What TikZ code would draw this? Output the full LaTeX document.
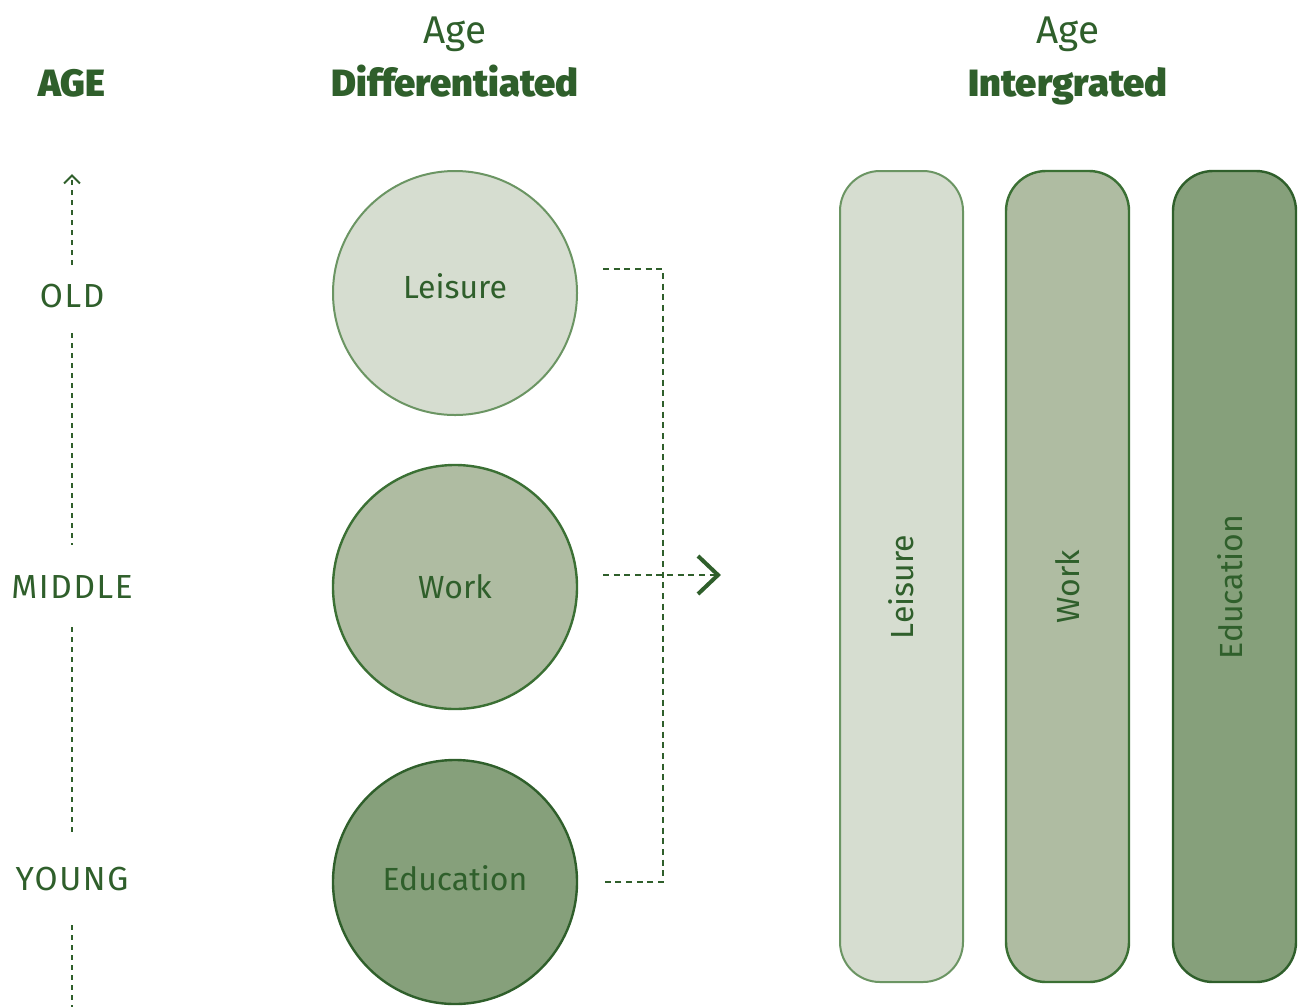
\documentclass[tikz,border=0pt]{standalone}
\usepackage{fontspec}
\setmainfont{Fira Sans}
\newfontfamily\heavyfont{Fira Sans Black}
\usetikzlibrary{arrows.meta,calc}
\definecolor{tg}{HTML}{2F5F2B}
\definecolor{fillA}{HTML}{D6DDD0}
\definecolor{fillB}{HTML}{AFBCA2}
\definecolor{fillC}{HTML}{86A07B}
\definecolor{edgeA}{HTML}{6B9563}
\definecolor{edgeB}{HTML}{3B7034}
\definecolor{edgeC}{HTML}{2F5F2B}
\tikzset{
  lbl/.style={text=tg, font=\fontsize{24}{28}\selectfont, inner sep=0pt, anchor=base},
  axl/.style={text=tg, font=\fontsize{25}{29}\selectfont\addfontfeatures{LetterSpace=5}, inner sep=0pt, anchor=base},
  top/.style={text=tg, font=\fontsize{29}{34}\selectfont, inner sep=0pt, anchor=base},
  hd/.style={text=tg, font=\heavyfont\fontsize{28.5}{33}\selectfont, inner sep=0pt, anchor=base},
  circ/.style={circle, minimum size=244*0.75pt, line width=1.5pt, inner sep=0pt},
  bar/.style={rectangle, rounded corners=30pt, minimum width=123*0.75pt, minimum height=811*0.75pt, line width=1.5pt, inner sep=0pt},
  vlbl/.style={text=tg, font=\fontsize{24}{28}\selectfont, inner sep=0pt, rotate=90},
  axisdash/.style={tg, line width=1.6pt, dash pattern=on 3.5pt off 4pt},
  brdash/.style={tg, line width=1.8pt, dash pattern=on 4.5pt off 3.5pt},
  chev/.style={tg, line width=3pt, line join=miter, line cap=butt},
}
\begin{document}
\begin{tikzpicture}[x=0.75pt, y=-0.75pt]
\useasboundingbox (0,0) rectangle (1298,1007);
% headers
\node[hd] (age) at (72,96) {AGE};
\node[top] (ageA) at (455,43) {Age};
\node[hd] (diff) at (455,96) {Differentiated};
\node[top] (ageB) at (1068,43) {Age};
\node[hd] (intg) at (1068,96) {Intergrated};
% axis
\node[axl] (old) at (72,307) {OLD};
\node[axl] (mid) at (72,598) {MIDDLE};
\node[axl] (yng) at (72,890) {YOUNG};
\coordinate (axtop) at (72,174);
\coordinate (a1) at (72,265);
\coordinate (a2) at (72,333);
\coordinate (a3) at (72,545);
\coordinate (a4) at (72,627);
\coordinate (a5) at (72,835);
\coordinate (a6) at (72,925);
\coordinate (a7) at (72,1007);
\draw[axisdash, -{Straight Barb[length=6pt, width=12pt, line width=1.5pt]}] (a1) -- (axtop);
\draw[axisdash] (a2) -- (a3);
\draw[axisdash] (a4) -- (a5);
\draw[axisdash] (a6) -- (a7);
% circles
\node[circ, fill=fillA, draw=edgeA] (lei) at (455,293) {};
\node[circ, fill=fillB, draw=edgeB, line width=1.8pt] (wrk) at (455,587) {};
\node[circ, fill=fillC, draw=edgeC, line width=1.8pt] (edu) at (455,882) {};
\node[lbl] (leiT) at (455,298) {Leisure};
\node[lbl] (wrkT) at (455,598) {Work};
\node[lbl] (eduT) at (455,890) {Education};
% bracket
\coordinate (b1) at (603,269);
\coordinate (b2) at (663,269);
\coordinate (b3) at (663,882);
\coordinate (b4) at (603,882);
\coordinate (m1) at (603,575);
\coordinate (m2) at (718,575);
\coordinate (c1) at (698,556);
\coordinate (c2) at (698,594);
\draw[brdash] (b1) -- (b2) -- (b3) -- (b4);
\draw[brdash] (m1) -- (m2);
\draw[chev] (c1) -- (m2) -- (c2);
% bars
\node[bar, fill=fillA, draw=edgeA] (barA) at (901.5,576.5) {};
\node[bar, fill=fillB, draw=edgeB, line width=1.8pt] (barB) at (1067.5,576.5) {};
\node[bar, fill=fillC, draw=edgeC, line width=1.8pt] (barC) at (1234.5,576.5) {};
\node[vlbl] (tA) at (901,587) {Leisure};
\node[vlbl] (tB) at (1068,587) {Work};
\node[vlbl] (tC) at (1230,587) {Education};
\end{tikzpicture}
\end{document}
